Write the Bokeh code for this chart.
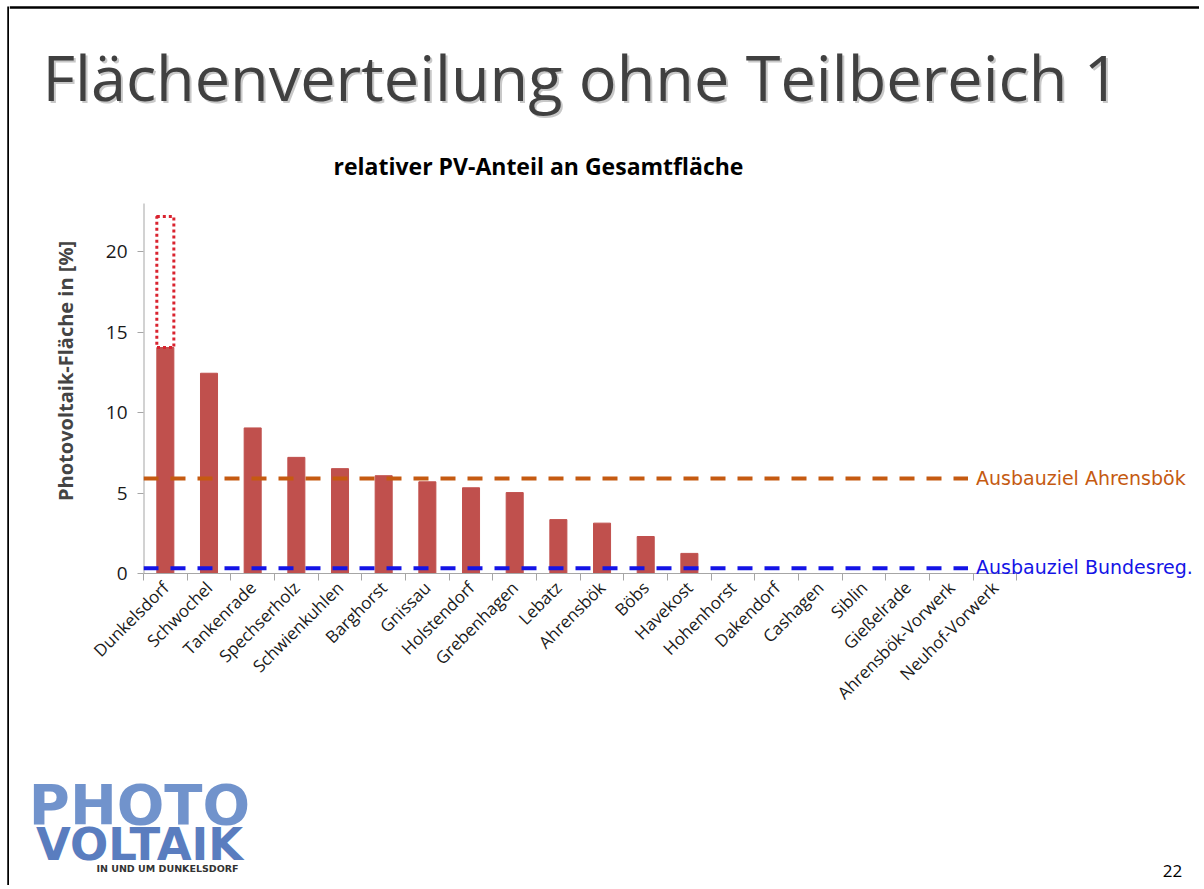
import math
from bokeh.plotting import figure
from bokeh.models import Label, FixedTicker, Range1d, Span
from bokeh.layouts import column, row
from bokeh.embed import file_html
from bokeh.resources import INLINE

# ---------------- data ----------------
categories = ["Dunkelsdorf", "Schwochel", "Tankenrade", "Spechserholz", "Schwienkuhlen",
              "Barghorst", "Gnissau", "Holstendorf", "Grebenhagen", "Lebatz", "Ahrensbök",
              "Böbs", "Havekost", "Hohenhorst", "Dakendorf", "Cashagen", "Siblin",
              "Gießelrade", "Ahrensbök-Vorwerk", "Neuhof-Vorwerk"]
pv_share = [14.05, 12.45, 9.05, 7.22, 6.52, 6.08, 5.70, 5.33, 5.03, 3.35, 3.13,
            2.30, 1.25, 0, 0, 0, 0, 0, 0, 0]
dunkelsdorf_with_tb1 = 22.2          # dotted outline: value incl. Teilbereich 1
target_values = [5.9, 0.33]
target_labels = ["Ausbauziel Ahrensbök", "Ausbauziel Bundesreg."]
target_colors = ["#C55A11", "#1414E6"]
y_ticks = [0, 5, 10, 15, 20]
y_axis_top = 23

slide_title = "Flächenverteilung ohne Teilbereich 1"
chart_title = "relativer PV-Anteil an Gesamtfläche"
y_label = "Photovoltaik-Fläche in [%]"
page_number = "22"
logo_lines = ["PHOTO", "VOLTAIK", "IN UND UM DUNKELSDORF"]

# ---------------- layout constants ----------------
STRIP = 9            # left strip holding the slide's black left edge
W = 1190             # width of the slide column
H0, H1, H2 = 135, 620, 130
FRAME_LEFT = 134     # plot frame left inside main figure
CAT_PX = 43.67       # pixel width of one category
Y_PX = 16.085        # pixels per percent
ZERO_Y = 438         # y pixel of value 0 inside main figure (from top)
BELOW_ZERO = 7       # frame extends this many px below the baseline


def blank(width, height):
    f = figure(width=width, height=height, output_backend="svg", toolbar_location=None,
               x_axis_location=None, y_axis_location=None, title=None,
               x_range=Range1d(0, width), y_range=Range1d(0, height),
               min_border=0, min_border_left=0, min_border_right=0,
               min_border_top=0, min_border_bottom=0)
    f.frame_align = False
    f.outline_line_color = None
    f.xgrid.visible = False
    f.ygrid.visible = False
    f.background_fill_color = "white"
    f.border_fill_color = "white"
    return f


# left strip with black slide edge
strip = blank(STRIP, H0 + H1 + H2)
strip.segment(x0=[8], x1=[8], y0=[0], y1=[H0 + H1 + H2 - 6], line_color="black",
              line_width=2.5)

# ---------------- slide title ----------------
p0 = blank(W, H0)
p0.add_layout(Span(location=H0 - 7, dimension="width", line_color="black",
                   line_width=2.5))
p0.add_layout(Label(x=35, y=57, x_units="screen", y_units="screen", text=slide_title,
                    text_font="Open Sans", text_font_size="63px", text_color="#c8c8c8",
                    text_baseline="middle"))
p0.add_layout(Label(x=33, y=59, x_units="screen", y_units="screen", text=slide_title,
                    text_font="Open Sans", text_font_size="63px", text_color="#404040",
                    text_baseline="middle"))

# ---------------- chart ----------------
n = len(categories)
frame_h = ZERO_Y + BELOW_ZERO
x_end = (W - FRAME_LEFT) / CAT_PX
y_start = -BELOW_ZERO / Y_PX
y_end = ZERO_Y / Y_PX
p = figure(width=W, height=H1, output_backend="svg", toolbar_location=None, title=None,
           x_range=Range1d(0, x_end), y_range=Range1d(y_start, y_end),
           min_border_left=FRAME_LEFT, min_border_right=0, min_border_top=0,
           min_border_bottom=H1 - frame_h)
p.frame_align = False
p.background_fill_color = "white"
p.border_fill_color = "white"
p.outline_line_color = None
p.xgrid.visible = False
p.ygrid.visible = False

xc = [i + 0.5 for i in range(n)]
p.vbar(x=xc, top=pv_share, width=0.39, bottom=0, color="#C0504D")

# dotted outline on Dunkelsdorf
p.quad(left=[xc[0] - 0.195], right=[xc[0] + 0.195], bottom=[pv_share[0]],
       top=[dunkelsdorf_with_tb1], fill_alpha=0, line_color="#D9232F",
       line_width=3, line_dash="3 3")

# axis lines restricted to the chart area
p.segment(x0=[0], x1=[0], y0=[0], y1=[y_axis_top], line_color="#A6A6A6", line_width=2)
p.segment(x0=[0], x1=[n], y0=[0], y1=[0], line_color="#A6A6A6", line_width=1.2)

line_end = 18.88
for v, lab, col in zip(target_values, target_labels, target_colors):
    p.segment(x0=[0], x1=[line_end], y0=[v], y1=[v], line_color=col,
              line_width=4, line_dash="15 12")
    p.add_layout(Label(x=line_end, y=v, x_offset=8, y_offset=1, text=lab, text_color=col,
                       text_font="DejaVu Sans", text_font_size="19px",
                       text_baseline="middle"))

p.add_layout(Label(x=395, y=frame_h - 30, x_units="screen", y_units="screen",
                   text=chart_title, text_font="Open Sans", text_font_style="bold",
                   text_font_size="23px", text_color="#000000", text_align="center",
                   text_baseline="middle"))

# axes
xa = p.xaxis[0]
xa.ticker = FixedTicker(ticks=xc, minor_ticks=list(range(n + 1)))
xa.major_label_overrides = {x: c for x, c in zip(xc, categories)}
xa.major_label_orientation = math.pi / 4
xa.major_tick_out = 0
xa.major_tick_in = 0
xa.minor_tick_out = 0
xa.minor_tick_in = BELOW_ZERO
xa.minor_tick_line_color = "#A6A6A6"
xa.axis_line_color = None
xa.major_label_text_font = "Open Sans"
xa.major_label_text_font_size = "17px"
xa.major_label_text_color = "#1a1a1a"
xa.major_label_standoff = 4

ya = p.yaxis[0]
ya.ticker = FixedTicker(ticks=y_ticks, minor_ticks=[])
ya.major_tick_out = 6
ya.major_tick_in = 0
ya.major_tick_line_color = "#A6A6A6"
ya.axis_line_color = None
ya.major_label_text_font = "Open Sans"
ya.major_label_text_font_size = "19px"
ya.major_label_text_color = "#1a1a1a"
ya.major_label_standoff = 10
ya.axis_label = y_label + "\u00a0" * 5
ya.axis_label_text_font = "Open Sans"
ya.axis_label_text_font_style = "bold"
ya.axis_label_text_font_size = "20px"
ya.axis_label_standoff = 24

# ---------------- footer: logo + page number ----------------
p2 = blank(W, H2)
p2.add_layout(Label(x=130, y=81, x_units="screen", y_units="screen", text=logo_lines[0],
                    text_font="DejaVu Sans", text_font_style="bold", text_font_size="56px",
                    text_color="#7193CC", text_align="center", text_baseline="middle"))
p2.add_layout(Label(x=130, y=41, x_units="screen", y_units="screen", text=logo_lines[1],
                    text_font="DejaVu Sans", text_font_style="bold", text_font_size="45px",
                    text_color="#5A7DBF", text_align="center", text_baseline="middle"))
p2.add_layout(Label(x=158, y=17, x_units="screen", y_units="screen", text=logo_lines[2],
                    text_font="DejaVu Sans", text_font_style="bold", text_font_size="9.5px",
                    text_color="#333333", text_align="center", text_baseline="middle"))
p2.add_layout(Label(x=1163, y=15, x_units="screen", y_units="screen", text=page_number,
                    text_font="Open Sans", text_font_size="17px", text_color="#000000",
                    text_align="center", text_baseline="middle"))

root = row(strip, column(p0, p, p2, spacing=0), spacing=0)
open("out.html", "w").write(file_html(root, INLINE))
